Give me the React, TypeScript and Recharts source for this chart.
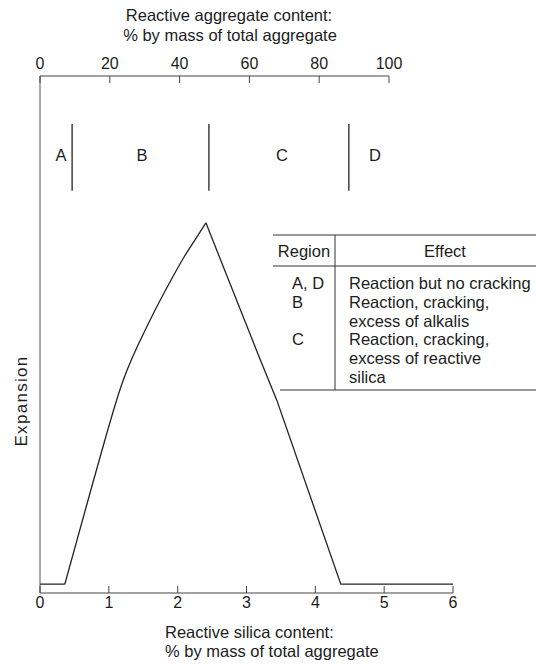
import {
    ComposedChart,
    Line,
    XAxis,
    YAxis,
    ReferenceLine,
    ReferenceDot,
} from "recharts";

// expansion curve (silica %, arbitrary expansion units)
const silica = [0, 0.36, 0.78, 1.21, 1.6, 1.89, 2.08, 2.28, 2.41, 3.2, 3.44, 4.37, 6];
const expansion = [1.7, 1.7, 21.9, 41.2, 52.8, 60.2, 64.7, 68.9, 71.6, 45.1, 37.3, 1.7, 1.7];
// the rising limb (index 1..PEAK) is a smooth curve, the rest is straight
const PEAK = 8;

const silicaTicks = [0, 1, 2, 3, 4, 5, 6];
const aggregateTicks = [0, 20, 40, 60, 80, 100];

// regions A-D along the aggregate (top) axis
const regionNames = ["A", "B", "C", "D"];
const regionLabelAt = [6.0, 29.2, 69.3, 96.0];
const regionBounds = [9.2, 48.4, 88.5];

const tableRegions = ["A, D", "B", "", "C", "", ""];
const tableEffects = [
    "Reaction but no cracking",
    "Reaction, cracking,",
    "excess of alkalis",
    "Reaction, cracking,",
    "excess of reactive",
    "silica",
];

const data = silica.map((s, i) => ({
    silica: s,
    rise: i >= 1 && i <= PEAK ? expansion[i] : null,
    rest: i <= 1 || i >= PEAK ? expansion[i] : null,
}));

const FONT = '"Liberation Sans", Arial, Helvetica, sans-serif';
const INK = "#1c1c1c";

// ticks point inward, labels sit outside the frame
const BottomTick = (props: any) => {
    const { x, y, payload } = props;
    return (
        <g>
            <line x1={x} y1={y} x2={x} y2={y - 7} stroke="#444" />
            <text x={x} y={y + 15} textAnchor="middle" fontSize={16} fill={INK} fontFamily={FONT}>
                {payload.value}
            </text>
        </g>
    );
};

const TopTick = (props: any) => {
    const { x, y, payload } = props;
    return (
        <g>
            <line x1={x} y1={y} x2={x} y2={y + 7} stroke="#444" />
            <text x={x} y={y - 7} textAnchor="middle" fontSize={16} fill={INK} fontFamily={FONT}>
                {payload.value}
            </text>
        </g>
    );
};

const Overlay = () => {
    const rowY = (i: number) => 289 + i * 18.8;
    return (
        <svg
            width={536}
            height={664}
            style={{ position: "absolute", left: 0, top: 0, pointerEvents: "none" }}
            fontFamily={FONT}
            fontSize={16.5}
            fill={INK}
        >
            {/* axis titles */}
            <text x={229} y={21} textAnchor="middle">Reactive aggregate content:</text>
            <text x={230} y={41} textAnchor="middle">% by mass of total aggregate</text>
            <text x={165} y={638}>Reactive silica content:</text>
            <text x={165} y={657}>% by mass of total aggregate</text>
            <text
                x={27}
                y={401}
                textAnchor="middle"
                fontSize={17}
                letterSpacing={1.3}
                transform="rotate(-90 27 401)"
            >
                Expansion
            </text>

            {/* region / effect table */}
            <g stroke="#333" strokeWidth={1}>
                <line x1={273} y1={235} x2={536} y2={235} />
                <line x1={273} y1={266} x2={536} y2={266} />
                <line x1={280} y1={390} x2={536} y2={390} />
                <line x1={335} y1={235} x2={335} y2={390} />
            </g>
            <text x={304} y={257} textAnchor="middle">Region</text>
            <text x={445} y={257} textAnchor="middle">Effect</text>
            {tableRegions.map((r, i) =>
                r ? (
                    <text key={"r" + i} x={292} y={rowY(i)}>{r}</text>
                ) : null
            )}
            {tableEffects.map((e, i) => (
                <text key={"e" + i} x={349} y={rowY(i)}>{e}</text>
            ))}
        </svg>
    );
};

export default function App() {
    return (
        <div style={{ position: "absolute", left: 0, top: 0, width: 536, height: 664, background: "#fff" }}>
            <ComposedChart
                width={536}
                height={664}
                data={data}
                margin={{ top: 46, right: 83, bottom: 41, left: 40 }}
            >
                <XAxis
                    xAxisId="bottom"
                    dataKey="silica"
                    type="number"
                    domain={[0, 6]}
                    allowDataOverflow
                    ticks={silicaTicks}
                    interval={0}
                    height={30}
                    stroke="#444"
                    tickSize={0}
                    tickMargin={0}
                    tickLine={false}
                    tick={<BottomTick />}
                />
                <XAxis
                    xAxisId="top"
                    orientation="top"
                    dataKey="silica"
                    type="number"
                    domain={[0, 100]}
                    allowDataOverflow
                    ticks={aggregateTicks}
                    interval={0}
                    padding={{ left: 0, right: 64 }}
                    height={30}
                    axisLine={false}
                    tickSize={0}
                    tickMargin={0}
                    tickLine={false}
                    tick={<TopTick />}
                />
                <YAxis type="number" domain={[0, 100]} allowDataOverflow hide />

                {/* left axis and top axis line */}
                <ReferenceLine xAxisId="bottom" x={0} stroke="#555" strokeWidth={1} />
                <ReferenceLine
                    xAxisId="top"
                    segment={[{ x: 0, y: 100 }, { x: 100, y: 100 }]}
                    stroke="#444"
                    strokeWidth={1}
                    ifOverflow="visible"
                />

                {regionBounds.map((b) => (
                    <ReferenceLine
                        key={b}
                        xAxisId="top"
                        segment={[{ x: b, y: 90.7 }, { x: b, y: 77.8 }]}
                        stroke="#222"
                        strokeWidth={1.3}
                    />
                ))}
                {regionNames.map((n, i) => (
                    <ReferenceDot
                        key={n}
                        xAxisId="top"
                        x={regionLabelAt[i]}
                        y={84.7}
                        r={0}
                        fill="none"
                        stroke="none"
                        label={{ value: n, position: "center", fill: INK, fontSize: 16.5, fontFamily: FONT }}
                    />
                ))}

                <Line
                    xAxisId="bottom"
                    type="monotoneX"
                    dataKey="rise"
                    stroke="#222"
                    strokeWidth={1.3}
                    dot={false}
                    isAnimationActive={false}
                />
                <Line
                    xAxisId="bottom"
                    type="linear"
                    dataKey="rest"
                    stroke="#222"
                    strokeWidth={1.3}
                    dot={false}
                    connectNulls={false}
                    isAnimationActive={false}
                />
            </ComposedChart>
            <Overlay />
        </div>
    );
}
